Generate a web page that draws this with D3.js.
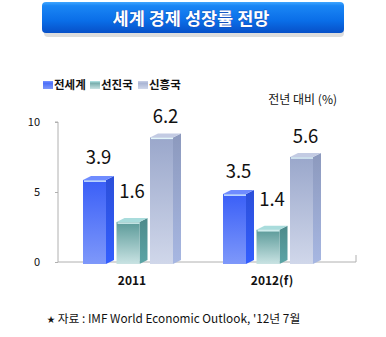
<!DOCTYPE html>
<html><head><meta charset="utf-8">
<script src="https://cdn.jsdelivr.net/npm/d3@7"></script>
<style>body{margin:0;background:#fff}svg{display:block}text{font-family:"Noto Sans CJK KR","Noto Sans",sans-serif}</style>
</head><body>
<svg id="c" width="386" height="337"></svg>
<script>
const title = "세계 경제 성장률 전망";
const years = ["2011", "2012(f)"];
const series = ["전세계", "선진국", "신흥국"];
const labels2011 = ["3.9", "1.6", "6.2"];
const labels2012 = ["3.5", "1.4", "5.6"];
// bar heights as drawn on the axis (picture does not scale bars to labels)
const heights2011 = [5.85, 2.85, 8.9];
const heights2012 = [4.85, 2.3, 7.5];
const yTicks = [0, 5, 10];
const unitNote = "전년 대비 (%)";
const source = "자료 : IMF World Economic Outlook, '12년 7월";

const svg = d3.select("#c");
const defs = svg.append("defs");

const pal = {
  "전세계": {top:"#3a5ff7", bot:"#7e98fa", side:"#2b4fd9", cap:"#6f8cff"},
  "선진국": {top:"#5b9a99", bot:"#c9e3e3", side:"#4d8a8b", cap:"#a9dcdc"},
  "신흥국": {top:"#9aa7cb", bot:"#d0d7ea", side:"#8c99bd", cap:"#c3cbe3"}
};
const labelOff = {"전세계":16, "선진국":24, "신흥국":14};

// title box
const tg = defs.append("linearGradient").attr("id","tg").attr("x1",0).attr("y1",0).attr("x2",0).attr("y2",1);
tg.append("stop").attr("offset","0").attr("stop-color","#3fa6ff");
tg.append("stop").attr("offset","0.12").attr("stop-color","#1a86f5");
tg.append("stop").attr("offset","0.6").attr("stop-color","#0a6ee8");
tg.append("stop").attr("offset","1").attr("stop-color","#0750c8");
svg.append("rect").attr("x",44).attr("y",5).attr("width",300).attr("height",32).attr("rx",4).attr("fill","#cfcfcf").attr("opacity",0.7);
svg.append("rect").attr("x",42).attr("y",2).attr("width",302).attr("height",31).attr("rx",4).attr("fill","url(#tg)");
svg.append("text").attr("x",191).attr("y",25).attr("text-anchor","middle").attr("fill","#fff")
  .attr("font-size",17.5).attr("font-weight","bold").attr("stroke","#1d3fa8").attr("stroke-width",0.6).attr("paint-order","stroke").text(title);

// gradients for bars
series.forEach((s,i)=>{
  const g = defs.append("linearGradient").attr("id","bg"+i).attr("x1",0).attr("y1",0).attr("x2",0).attr("y2",1);
  g.append("stop").attr("offset","0").attr("stop-color",pal[s].top);
  g.append("stop").attr("offset","1").attr("stop-color",pal[s].bot);
  const sg = defs.append("linearGradient").attr("id","sg"+i).attr("x1",0).attr("y1",0).attr("x2",0).attr("y2",1);
  sg.append("stop").attr("offset","0").attr("stop-color",pal[s].side);
  sg.append("stop").attr("offset","1").attr("stop-color",d3.color(pal[s].side).brighter(0.5));
});

// legend
const legX = [43, 90, 138];
series.forEach((s,i)=>{
  const g = svg.append("g").attr("transform",`translate(${legX[i]},81)`);
  g.append("rect").attr("width",10).attr("height",8).attr("fill",`url(#bg${i})`);
  g.append("rect").attr("x",0).attr("y",0).attr("width",10).attr("height",1.5).attr("fill",pal[s].cap);
  g.append("text").attr("x",11).attr("y",7.5).attr("font-size",11.5).attr("font-weight","bold").attr("fill","#111").text(s);
});
svg.append("text").attr("x",337).attr("y",104).attr("text-anchor","end").attr("font-size",12).attr("fill","#111").text(unitNote);

// scales
const y = d3.scaleLinear().domain([0,10]).range([262,122]);
const x0 = d3.scaleBand().domain(years).range([62,342]);
const x1 = d3.scaleBand().domain(series).range([21,121.5]);
const fw = 23, dx = 8, dy = 4;

// axis
const axisCol = "#b0b0b0";
const yAxis = d3.axisLeft(y).tickValues(yTicks).tickSize(3).tickFormat(d3.format("d"));
const ag = svg.append("g").attr("transform","translate(58,0)").call(yAxis);
ag.select(".domain").attr("stroke",axisCol).attr("d","M-3,122H0V262");
ag.selectAll(".tick line").attr("stroke",axisCol);
ag.selectAll(".tick text").attr("font-size",11).attr("fill","#111").attr("x",-18).attr("dy","0.35em")
  .style("font-family",'"Noto Sans CJK KR",sans-serif');
svg.append("line").attr("x1",58).attr("x2",356).attr("y1",y(0)).attr("y2",y(0)).attr("stroke",axisCol);
svg.append("line").attr("x1",356).attr("x2",356).attr("y1",255).attr("y2",y(0)).attr("stroke",axisCol);

const data = [
  {year:years[0], heights:heights2011, labels:labels2011},
  {year:years[1], heights:heights2012, labels:labels2012}
];
const base = y(0) + 2;
data.forEach(d=>{
  series.forEach((s,i)=>{
    const xl = x0(d.year) + x1(s);
    const yt = y(d.heights[i]);
    const g = svg.append("g");
    g.append("path").attr("d",`M${xl+fw},${yt}L${xl+fw+dx},${yt-dy}L${xl+fw+dx},${base-dy}L${xl+fw},${base}Z`).attr("fill",`url(#sg${i})`);
    g.append("rect").attr("x",xl).attr("y",yt).attr("width",fw).attr("height",base-yt).attr("fill",`url(#bg${i})`);
    g.append("path").attr("d",`M${xl},${yt}L${xl+dx},${yt-dy}L${xl+fw+dx},${yt-dy}L${xl+fw},${yt}Z`).attr("fill",pal[s].cap);
    g.append("line").attr("x1",xl+1).attr("x2",xl+fw).attr("y1",yt+1).attr("y2",yt+1).attr("stroke","#eaffff").attr("stroke-width",1.4).attr("opacity",0.9);
    svg.append("text").attr("x",xl+(fw+dx)/2).attr("y",yt-labelOff[s]).attr("text-anchor","middle")
      .attr("font-size",18.5).attr("fill","#111").text(d.labels[i]);
  });
  svg.append("text").attr("x",x0(d.year)+x0.bandwidth()/2).attr("y",285).attr("text-anchor","middle")
    .attr("font-size",12).attr("font-weight","bold").attr("fill","#111").text(d.year);
});

// source
const st = svg.append("text").attr("x",47).attr("y",323).attr("font-size",11.8).attr("fill","#111");
st.append("tspan").attr("font-size",8).attr("dy",-1).text("★");
st.append("tspan").attr("dy",1).text(" " + source);
</script>
</body></html>
